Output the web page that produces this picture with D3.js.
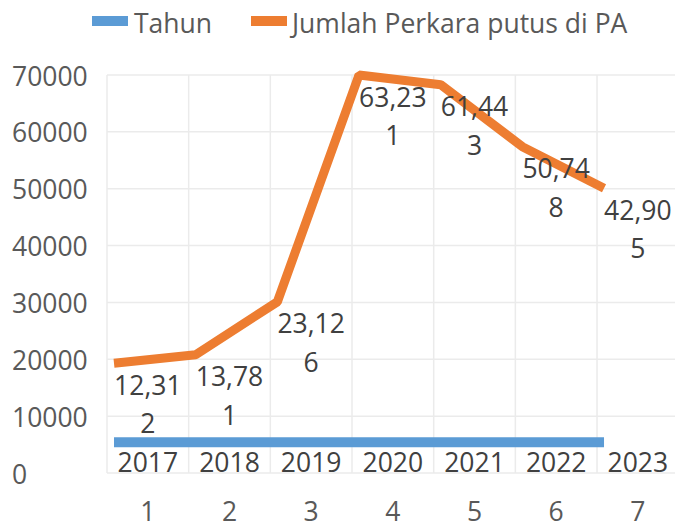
<!DOCTYPE html>
<html>
<head>
<meta charset="utf-8">
<script src="https://cdn.jsdelivr.net/npm/d3@7"></script>
<style>
  body { margin: 0; background: #fff; }
  svg { display: block; font-family: "Open Sans", sans-serif; }
</style>
</head>
<body>
<div id="chart"></div>
<script>
// data
const categories = ["1", "2", "3", "4", "5", "6", "7"];
const tahunLabels = ["2017", "2018", "2019", "2020", "2021", "2022", "2023"];
const tahunValues = [5400, 5400, 5400, 5400, 5400, 5400, 5400];
const perkaraValues = [19300, 20800, 30100, 70000, 68300, 57400, 50100];
const perkaraLabels = ["12,312", "13,781", "23,126", "63,231", "61,443", "50,748", "42,905"];
const yTicks = [0, 10000, 20000, 30000, 40000, 50000, 60000, 70000];

const width = 675, height = 524;
const fontSize = 26.5;
const blue = "#5b9bd5", orange = "#ed7d31";

const svg = d3.select("#chart").append("svg")
  .attr("width", width)
  .attr("height", height);

// Scales
const x = d3.scaleBand()
  .domain(categories)
  .range([107, 107 + 7 * 81.67])
  .paddingInner(0)
  .paddingOuter(0);
const y = d3.scaleLinear()
  .domain([0, 70000])
  .range([473, 75]);

const pointX = (i) => x(categories[i]) + 7;
const centerX = (i) => x(categories[i]) + x.bandwidth() / 2;

// Gridlines
const grid = svg.append("g").attr("stroke", "#ebebeb").attr("stroke-width", 1.5);
grid.selectAll(".h")
  .data(yTicks)
  .enter().append("line")
    .attr("x1", x.range()[0]).attr("x2", width)
    .attr("y1", (d) => y(d)).attr("y2", (d) => y(d));
grid.selectAll(".v")
  .data(categories)
  .enter().append("line")
    .attr("x1", (d) => x(d)).attr("x2", (d) => x(d))
    .attr("y1", y(70000)).attr("y2", y(0));

// Y axis labels (left aligned)
const yAxis = svg.append("g")
  .attr("transform", "translate(0,0)")
  .call(d3.axisLeft(y).tickValues(yTicks).tickSize(0).tickFormat(d3.format("d")));
yAxis.select(".domain").remove();
yAxis.selectAll("text")
  .attr("x", 12)
  .attr("dy", "0.38em")
  .attr("text-anchor", "start")
  .attr("fill", "#595959")
  .style("font-size", fontSize + "px")
  .style("font-family", "Open Sans");

// X axis labels
const xAxis = svg.append("g")
  .attr("transform", "translate(0,511)")
  .call(d3.axisBottom(x).tickSize(0).tickPadding(0));
xAxis.select(".domain").remove();
xAxis.selectAll("text")
  .attr("y", 0)
  .attr("dy", "0.36em")
  .attr("fill", "#595959")
  .style("font-size", fontSize + "px")
  .style("font-family", "Open Sans");

// Lines
const line = d3.line()
  .x((d, i) => pointX(i))
  .y((d) => y(d));

svg.append("path")
  .datum(tahunValues)
  .attr("fill", "none")
  .attr("stroke", blue)
  .attr("stroke-width", 10)
  .attr("d", line);

svg.append("path")
  .datum(perkaraValues)
  .attr("fill", "none")
  .attr("stroke", orange)
  .attr("stroke-width", 9)
  .attr("stroke-linejoin", "bevel")
  .attr("d", line);

// Data labels: Tahun
svg.append("g").selectAll("text")
  .data(tahunLabels)
  .enter().append("text")
    .attr("x", (d, i) => centerX(i))
    .attr("y", 462)
    .attr("dy", "0.36em")
    .attr("text-anchor", "middle")
    .attr("fill", "#404040")
    .style("font-size", fontSize + "px")
    .text((d) => d);

// Data labels: perkara (wrapped like the original)
const lbl = svg.append("g").selectAll("g")
  .data(perkaraLabels)
  .enter().append("text")
    .attr("text-anchor", "middle")
    .attr("fill", "#404040")
    .style("font-size", fontSize + "px");
lbl.append("tspan")
  .attr("x", (d, i) => centerX(i))
  .attr("y", (d, i) => y(perkaraValues[i]) + 22)
  .attr("dy", "0.36em")
  .text((d) => d.slice(0, 5));
lbl.append("tspan")
  .attr("x", (d, i) => centerX(i))
  .attr("y", (d, i) => y(perkaraValues[i]) + 60.5)
  .attr("dy", "0.36em")
  .text((d) => d.slice(5));

// Legend
const legend = svg.append("g");
legend.append("rect").attr("x", 92).attr("y", 16).attr("width", 36).attr("height", 10).attr("fill", blue);
legend.append("text").attr("x", 134).attr("y", 23).attr("dy", "0.36em")
  .attr("fill", "#595959").style("font-size", fontSize + "px").text("Tahun");
legend.append("rect").attr("x", 251).attr("y", 16).attr("width", 36).attr("height", 10).attr("fill", orange);
legend.append("text").attr("x", 292).attr("y", 23).attr("dy", "0.36em")
  .attr("fill", "#595959").style("font-size", fontSize + "px").text("Jumlah Perkara putus di PA");
</script>
</body>
</html>
